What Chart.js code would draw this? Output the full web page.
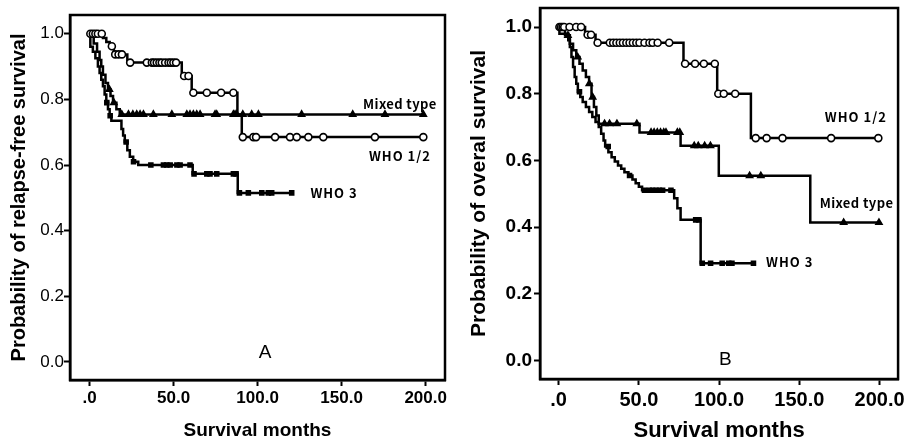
<!DOCTYPE html>
<html>
<head>
<meta charset="utf-8">
<script src="https://cdn.jsdelivr.net/npm/chart.js@4.4.0/dist/chart.umd.min.js"></script>
<style>
body { margin: 0; background: #fff; width: 908px; height: 444px; position: relative; overflow: hidden; }
canvas { position: absolute; top: 0; }
#chartA { left: 0; }
#chartB { left: 454px; }
</style>
</head>
<body>
<canvas id="chartA" width="454" height="444"></canvas>
<canvas id="chartB" width="454" height="444"></canvas>
<script>
// axis ticks
var xTicks = [0, 50, 100, 150, 200];
var yTicks = [0, 0.2, 0.4, 0.6, 0.8, 1.0];

// ---- A: relapse-free survival ----
var aWho12Time = [0, 8, 10, 12, 14.5, 22.5, 54.9, 60.8, 88.0, 90.6, 198.6];
var aWho12Surv = [1.0, 0.987, 0.975, 0.962, 0.937, 0.912, 0.871, 0.82, 0.754, 0.685, 0.685];
var aWho12CensT = [0.5, 2, 3.5, 5, 7.3, 13.3, 15.3, 17.3, 19.3,
  24.2, 34.1, 37.1, 38.4, 40, 41.6, 43, 45, 47, 48.4, 49.9, 51.5,
  56.3, 58.9, 61.8, 69.8, 78.3, 85.6,
  91.2, 97.5, 99.1, 110.4, 119.3, 123.3, 130.2, 139.1, 169.8, 198.6];
var aWho12CensS = [1, 1, 1, 1, 1, 0.962, 0.937, 0.937, 0.937,
  0.912, 0.912, 0.912, 0.912, 0.912, 0.912, 0.912, 0.912, 0.912, 0.912, 0.912, 0.912,
  0.871, 0.871, 0.82, 0.82, 0.82, 0.82,
  0.685, 0.685, 0.685, 0.685, 0.685, 0.685, 0.685, 0.685, 0.685, 0.685];

var aMixTime = [0, 2.5, 4.5, 6, 7, 8, 9.5, 11, 12.5, 14, 16, 18, 198.6];
var aMixSurv = [1.0, 0.97, 0.945, 0.92, 0.9, 0.875, 0.85, 0.83, 0.81, 0.79, 0.77, 0.754, 0.754];
var aMixCensT = [11.8, 14.5, 19.2, 23.2, 25.8, 28.1, 30.1, 32.1, 38, 49, 57.9, 59.8, 61.8, 63.8,
  65.8, 74.7, 75.7, 85.6, 86.6, 87.6, 91.2, 96.5, 100.5, 126.2, 156.6, 175.8, 198.6];
var aMixCensS = [0.83, 0.79, 0.754, 0.754, 0.754, 0.754, 0.754, 0.754, 0.754, 0.754, 0.754, 0.754, 0.754, 0.754,
  0.754, 0.754, 0.754, 0.754, 0.754, 0.754, 0.754, 0.754, 0.754, 0.754, 0.754, 0.754, 0.754];

var aW3Time = [0, 0.5, 2, 3.5, 5, 6, 7, 8, 9, 10, 11, 12, 13, 19, 20, 21, 22.5, 24, 26, 29, 61.4, 88.2, 120.3];
var aW3Surv = [1.0, 0.96, 0.945, 0.925, 0.9, 0.88, 0.86, 0.84, 0.815, 0.79, 0.77, 0.75, 0.735, 0.71, 0.69,
  0.67, 0.645, 0.625, 0.61, 0.6, 0.573, 0.515, 0.515];
var aW3CensT = [10.3, 12.3, 21.8, 26.2, 36.5, 44, 46, 48, 52, 53.9, 59.8,
  62.2, 69.8, 71.7, 75.7, 85.6, 87.2, 89.2, 94.5, 102.5, 106.4, 108.4, 120.3];
var aW3CensS = [0.79, 0.75, 0.67, 0.61, 0.6, 0.6, 0.6, 0.6, 0.6, 0.6, 0.6,
  0.573, 0.573, 0.573, 0.573, 0.573, 0.573, 0.515, 0.515, 0.515, 0.515, 0.515, 0.515];

// ---- B: overall survival ----
var bWho12Time = [0, 16.5, 23, 77.8, 98.8, 119.8, 199.2];
var bWho12Surv = [1.0, 0.977, 0.953, 0.89, 0.8, 0.667, 0.667];
var bWho12CensT = [0.5, 1.5, 2.5, 3.5, 6.8, 10.9, 14, 18.1, 20.2,
  24.3, 31.9, 34, 36, 38.1, 40.1, 42.2, 44.2, 46.3, 48.4, 50.4, 53.5, 56.6, 58.6, 61.7, 68.9,
  78.8, 85, 90.5, 97.3, 99.5, 102.9, 110, 122.8, 129.6, 139.5, 169.8, 199.2];
var bWho12CensS = [1, 1, 1, 1, 1, 1, 1, 0.977, 0.977,
  0.953, 0.953, 0.953, 0.953, 0.953, 0.953, 0.953, 0.953, 0.953, 0.953, 0.953, 0.953, 0.953, 0.953, 0.953, 0.953,
  0.89, 0.89, 0.89, 0.89, 0.8, 0.8, 0.8, 0.667, 0.667, 0.667, 0.667, 0.667];

var bMixTime = [0, 4, 7, 9, 11, 13, 15, 17, 19, 20.5, 22, 23.5, 25, 50.4, 76, 99.8, 156.8, 199.6];
var bMixSurv = [1.0, 0.975, 0.95, 0.93, 0.91, 0.89, 0.87, 0.85, 0.83, 0.79, 0.76, 0.735, 0.71, 0.684,
  0.644, 0.554, 0.414, 0.414];
var bMixCensT = [5.8, 11.9, 19.1, 21.2, 28.6, 31.7, 36.3, 48.7, 57.6, 59.5, 61.5, 63.5, 65.5, 66.9, 74, 75.5,
  84.5, 87, 91, 94.6, 119, 126, 177.6, 199.6];
var bMixCensS = [0.975, 0.91, 0.83, 0.79, 0.71, 0.71, 0.71, 0.71, 0.684, 0.684, 0.684, 0.684, 0.684, 0.684, 0.684, 0.684,
  0.644, 0.644, 0.644, 0.644, 0.554, 0.554, 0.414, 0.414];

var bW3Time = [0, 0.5, 6, 7, 8, 9, 10, 11, 12, 13.5, 15, 17, 19, 21, 23, 25, 26.5, 28, 29, 31,
  33, 35, 37, 39, 41, 43.5, 46, 48, 50, 52, 72, 74, 76, 88.5, 121.4];
var bW3Surv = [1.0, 0.98, 0.96, 0.94, 0.91, 0.88, 0.85, 0.83, 0.806, 0.79, 0.775, 0.76, 0.745, 0.73, 0.715,
  0.7, 0.68, 0.66, 0.642, 0.625, 0.61, 0.597, 0.585, 0.575, 0.565, 0.555, 0.543, 0.532, 0.521, 0.511,
  0.487, 0.457, 0.422, 0.292, 0.292];
var bW3CensT = [13, 30.9, 44.2, 53.5, 56.6, 58.6, 60.7, 62.8, 64.8, 70, 85.4, 87.4, 89.5, 94.7, 101.9, 106, 108, 121.4];
var bW3CensS = [0.806, 0.642, 0.555, 0.511, 0.511, 0.511, 0.511, 0.511, 0.511, 0.511, 0.422, 0.422,
  0.292, 0.292, 0.292, 0.292, 0.292, 0.292];

var FONT = '"Liberation Sans", Arial, sans-serif';
var LABELFONT = '"Noto Sans CJK KR", "Liberation Sans", sans-serif';

function pts(t, s) {
  return t.map(function (v, i) { return { x: v, y: s[i] }; });
}

function curve(t, s) {
  return { data: pts(t, s), stepped: true, borderColor: '#000', borderWidth: 2.5,
    pointRadius: 0, fill: false, order: 2 };
}

function marks(t, s, style, fill, r) {
  return { data: pts(t, s), showLine: false, pointStyle: style, pointRadius: r,
    backgroundColor: fill, borderColor: '#000', borderWidth: 1.6, order: 1 };
}

// box around the plot area
var framePlugin = {
  id: 'frame',
  beforeDatasetsDraw: function (chart) {
    var a = chart.chartArea, ctx = chart.ctx;
    ctx.save();
    ctx.lineWidth = 2.5;
    ctx.strokeStyle = '#000';
    ctx.strokeRect(a.left, a.top, a.right - a.left, a.bottom - a.top);
    ctx.restore();
  }
};

// curve names and panel letter
var notesPlugin = {
  id: 'notes',
  afterDatasetsDraw: function (chart, args, opts) {
    var ctx = chart.ctx, xs = chart.scales.x, ys = chart.scales.y;
    ctx.save();
    ctx.fillStyle = '#000';
    ctx.textAlign = 'center';
    ctx.textBaseline = 'middle';
    opts.items.forEach(function (n) {
      ctx.font = n.font;
      ctx.letterSpacing = n.spacing || '0px';
      ctx.fillText(n.text, xs.getPixelForValue(n.x), ys.getPixelForValue(n.y));
    });
    ctx.restore();
  }
};

function build(id, sets, o) {
  return new Chart(document.getElementById(id), {
    type: 'line',
    data: { datasets: sets },
    plugins: [framePlugin, notesPlugin],
    options: {
      responsive: false,
      animation: false,
      layout: { padding: o.padding },
      plugins: { legend: { display: false }, tooltip: { enabled: false }, notes: { items: o.notes } },
      scales: {
        x: {
          type: 'linear', min: -11.6, max: 211.5,
          afterBuildTicks: function (s) { s.ticks = xTicks.map(function (v) { return { value: v }; }); },
          afterFit: function (s) { s.height = o.xHeight; },
          border: { display: true, color: '#000', width: 2.5 },
          grid: { drawOnChartArea: false, drawTicks: true, tickLength: 6, tickWidth: 2, tickColor: '#000' },
          ticks: {
            color: '#000', padding: o.xPad, maxRotation: 0, autoSkip: false,
            font: { family: FONT, size: o.xTickSize, weight: 'bold' },
            callback: function (v) { return v === 0 ? '.0' : v.toFixed(1); }
          },
          title: { display: true, text: 'Survival months', color: '#000',
            font: { family: FONT, size: o.xTitleSize, weight: 'bold' }, padding: { top: 0, bottom: o.xTitlePad } }
        },
        y: {
          min: -0.055, max: 1.057,
          afterBuildTicks: function (s) { s.ticks = yTicks.map(function (v) { return { value: v }; }); },
          afterFit: function (s) { s.width = o.yWidth; s.paddingTop = 0; s.paddingBottom = 0; },
          border: { display: true, color: '#000', width: 2.5 },
          grid: { drawOnChartArea: false, drawTicks: true, tickLength: 6, tickWidth: 2, tickColor: '#000' },
          ticks: {
            color: '#000', padding: o.yPad, autoSkip: false,
            font: { family: FONT, size: o.yTickSize, weight: o.yTickWeight },
            callback: function (v) { return v.toFixed(1); }
          },
          title: { display: true, text: o.yTitle, color: '#000',
            font: { family: FONT, size: o.yTitleSize, weight: 'bold' }, padding: { top: o.yTitlePad, bottom: 0 } }
        }
      }
    }
  });
}

build('chartA', [
  marks(aWho12CensT, aWho12CensS, 'circle', '#fff', 3.5),
  marks(aMixCensT, aMixCensS, 'triangle', '#000', 3.5),
  marks(aW3CensT, aW3CensS, 'rect', '#000', 2.8),
  curve(aWho12Time, aWho12Surv),
  curve(aMixTime, aMixSurv),
  curve(aW3Time, aW3Surv)
], {
  padding: { left: 0, top: 15, right: 9, bottom: 0 },
  xHeight: 64, yWidth: 70,
  xPad: 2, yPad: 0,
  xTickSize: 17, yTickSize: 17, yTickWeight: 'normal',
  xTitleSize: 19, xTitlePad: 2,
  yTitle: 'Probability of relapse-free survival', yTitleSize: 20, yTitlePad: 7,
  notes: [
    { text: 'Mixed type', x: 184.7, y: 0.787, font: '600 13px ' + LABELFONT, spacing: '0.4px' },
    { text: 'WHO 1/2', x: 184.7, y: 0.627, font: '600 13px ' + LABELFONT, spacing: '1px' },
    { text: 'WHO 3', x: 145.5, y: 0.516, font: '600 13px ' + LABELFONT, spacing: '1px' },
    { text: 'A', x: 104.4, y: 0.028, font: '19px ' + FONT }
  ]
});

build('chartB', [
  marks(bWho12CensT, bWho12CensS, 'circle', '#fff', 3.5),
  marks(bMixCensT, bMixCensS, 'triangle', '#000', 3.5),
  marks(bW3CensT, bW3CensS, 'rect', '#000', 2.8),
  curve(bWho12Time, bWho12Surv),
  curve(bMixTime, bMixSurv),
  curve(bW3Time, bW3Surv)
], {
  padding: { left: 0, top: 8, right: 7, bottom: 0 },
  xHeight: 65, yWidth: 86,
  xPad: 3, yPad: 2,
  xTickSize: 20, yTickSize: 19, yTickWeight: 'bold',
  xTitleSize: 22, xTitlePad: 0,
  yTitle: 'Probability of overal survival', yTitleSize: 21, yTitlePad: 13,
  notes: [
    { text: 'WHO 1/2', x: 185.2, y: 0.731, font: '600 13px ' + LABELFONT, spacing: '1px' },
    { text: 'Mixed type', x: 185.6, y: 0.472, font: '600 13px ' + LABELFONT, spacing: '0.4px' },
    { text: 'WHO 3', x: 144, y: 0.294, font: '600 13px ' + LABELFONT, spacing: '1px' },
    { text: 'B', x: 103.9, y: 0.003, font: '19px ' + FONT }
  ]
});
</script>
</body>
</html>
